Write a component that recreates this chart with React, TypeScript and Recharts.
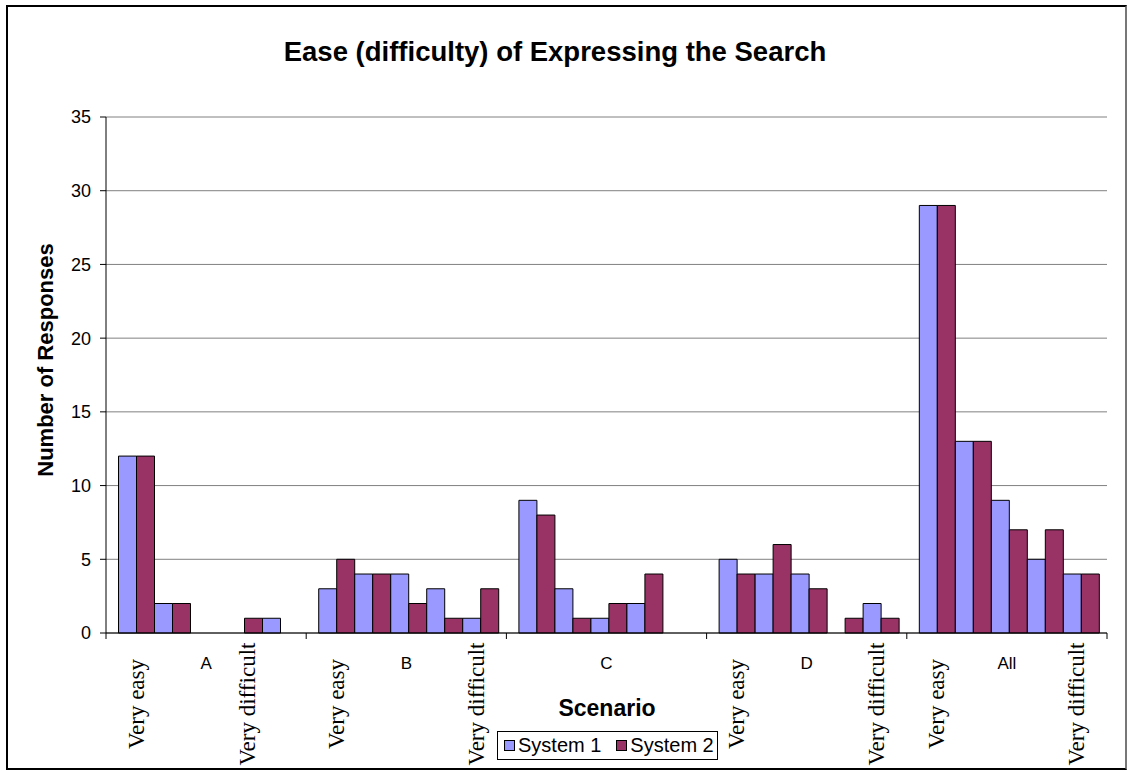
import { BarChart, Bar, XAxis, YAxis, CartesianGrid } from 'recharts';

const scenarios = ['A', 'B', 'C', 'D', 'All'];
const levels = ['Very easy', 'Easy', 'Neutral', 'Difficult', 'Very difficult'];

// responses per scenario, one entry per level (very easy .. very difficult)
const system1 = [
    [12, 2, 0, 0, 1],
    [3, 4, 4, 3, 1],
    [9, 3, 1, 2, 0],
    [5, 4, 4, 0, 2],
    [29, 13, 9, 5, 4],
];
const system2 = [
    [12, 2, 0, 1, 0],
    [5, 4, 2, 1, 3],
    [8, 1, 2, 4, 0],
    [4, 6, 3, 1, 1],
    [29, 13, 7, 7, 4],
];

// level captions that Excel printed under each scenario (first / last)
const levelCaptions = [
    ['Very easy', 'Very difficult'],
    ['Very easy', 'Very difficult'],
    ['', ''],
    ['Very easy', 'Very difficult'],
    ['Very easy', 'Very difficult'],
];

const yTicks = [0, 5, 10, 15, 20, 25, 30, 35];

const BLUE = '#9999FF';
const MAROON = '#993366';
const SANS = '"Liberation Sans", Arial, sans-serif';
const SERIF = '"Liberation Serif", "Times New Roman", serif';

const W = 1128;
const H = 772;
const PLOT_LEFT = 106;
const PLOT_RIGHT = 1107;
const PLOT_TOP = 117;
const PLOT_BOTTOM = 633;
const GAP_PCT = 0.0625;

const chartData = scenarios.map((s, i) => {
    const row: Record<string, string | number> = { scenario: s };
    levels.forEach((_, l) => {
        row[`s1_${l}`] = system1[i][l];
        row[`s2_${l}`] = system2[i][l];
    });
    return row;
});

const band = (PLOT_RIGHT - PLOT_LEFT) / scenarios.length;
const pairW = (band * (1 - 2 * GAP_PCT)) / levels.length;
const pairCenter = (l: number) => -band / 2 + band * GAP_PCT + pairW * (l + 0.5);

const ScenarioTick = (props: any) => {
    const { x, y, payload } = props;
    const i = payload.index;
    const [first, last] = levelCaptions[i];
    const capY = 704;
    const firstX = x + pairCenter(0);
    // Excel pulled the A caption in a little
    const lastX = i === 0 ? x + 41 : x + pairCenter(levels.length - 1);
    return (
        <g>
            <line x1={x - band / 2} x2={x - band / 2} y1={y} y2={y + 6} stroke="#000" />
            {i === scenarios.length - 1 && (
                <line x1={x + band / 2} x2={x + band / 2} y1={y} y2={y + 6} stroke="#000" />
            )}
            <text x={x} y={y + 30} textAnchor="middle" dominantBaseline="central"
                fontFamily={SANS} fontSize={17} fill="#000">{payload.value}</text>
            {first && (
                <text x={firstX} y={capY} textAnchor="middle" dominantBaseline="central"
                    transform={`rotate(-90, ${firstX}, ${capY})`}
                    fontFamily={SERIF} fontSize={23} fill="#000">{first}</text>
            )}
            {last && (
                <text x={lastX} y={capY} textAnchor="middle" dominantBaseline="central"
                    transform={`rotate(-90, ${lastX}, ${capY})`}
                    fontFamily={SERIF} fontSize={23} fill="#000">{last}</text>
            )}
        </g>
    );
};

const App = () => {
    return (
        <div style={{ position: 'absolute', left: 0, top: 0, width: W, height: H, background: '#fff' }}>
            {/* outer frame */}
            <div style={{
                position: 'absolute', left: 6, top: 5, width: 1121, height: 765,
                boxSizing: 'border-box', border: '2px solid #000', borderRight: '2px solid #777',
            }} />

            <div style={{
                position: 'absolute', left: 0, top: 36, width: 1110, textAlign: 'center',
                fontFamily: SANS, fontWeight: 'bold', fontSize: 27.5, lineHeight: '32px',
            }}>
                Ease (difficulty) of Expressing the Search
            </div>

            <BarChart
                width={W}
                height={H}
                data={chartData}
                margin={{ top: PLOT_TOP, right: W - PLOT_RIGHT, bottom: 0, left: 46 }}
                barCategoryGap={`${GAP_PCT * 100}%`}
                barGap={0}
            >
                <CartesianGrid vertical={false} stroke="#808080" />
                <XAxis
                    dataKey="scenario"
                    height={H - PLOT_BOTTOM}
                    interval={0}
                    tickLine={false}
                    tickSize={0}
                    tickMargin={0}
                    axisLine={{ stroke: '#000' }}
                    tick={<ScenarioTick />}
                />
                <YAxis
                    width={60}
                    domain={[0, 35]}
                    ticks={yTicks}
                    interval={0}
                    tickSize={6}
                    tickMargin={9}
                    axisLine={{ stroke: '#000' }}
                    tickLine={{ stroke: '#000' }}
                    tick={{ fill: '#000', fontSize: 18, fontFamily: SANS }}
                />
                <YAxis
                    yAxisId="frame"
                    orientation="right"
                    width={0}
                    domain={[0, 35]}
                    tick={false}
                    tickLine={false}
                    axisLine={{ stroke: '#808080' }}
                />
                {levels.flatMap((_, l) => [
                    <Bar key={`s1_${l}`} dataKey={`s1_${l}`} fill={BLUE} stroke="#000"
                        strokeWidth={1} isAnimationActive={false} />,
                    <Bar key={`s2_${l}`} dataKey={`s2_${l}`} fill={MAROON} stroke="#000"
                        strokeWidth={1} isAnimationActive={false} />,
                ])}
            </BarChart>

            {/* y axis title */}
            <div style={{
                position: 'absolute', left: 46, top: 360, transform: 'translate(-50%, -50%) rotate(-90deg)',
                whiteSpace: 'nowrap', fontFamily: SANS, fontWeight: 'bold', fontSize: 22,
            }}>
                Number of Responses
            </div>

            {/* x axis title */}
            <div style={{
                position: 'absolute', left: 507, top: 694, width: 200, textAlign: 'center',
                fontFamily: SANS, fontWeight: 'bold', fontSize: 23, lineHeight: '28px',
            }}>
                Scenario
            </div>

            {/* legend */}
            <div style={{
                position: 'absolute', left: 497, top: 731, width: 221, height: 29,
                boxSizing: 'border-box', border: '1px solid #000', background: '#fff',
                display: 'flex', alignItems: 'center', paddingLeft: 6,
                fontFamily: SANS, fontSize: 20,
            }}>
                <span style={{ width: 9, height: 9, background: BLUE, border: '1px solid #000', marginRight: 3 }} />
                <span style={{ marginRight: 15 }}>System 1</span>
                <span style={{ width: 9, height: 9, background: MAROON, border: '1px solid #000', marginRight: 3 }} />
                <span>System 2</span>
            </div>
        </div>
    );
};

export default App;
